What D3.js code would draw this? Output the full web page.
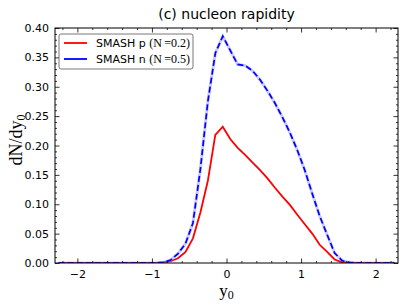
<!DOCTYPE html>
<html><head><meta charset="utf-8">
<script src="https://cdn.jsdelivr.net/npm/d3@7"></script>
<style>body{margin:0;background:#fff}svg{display:block}</style>
</head><body>
<script>
const titleText = "(c) nucleon rapidity";
const y0Bins = [-2.25,-2.15,-2.05,-1.95,-1.85,-1.75,-1.65,-1.55,-1.45,-1.35,-1.25,-1.15,-1.05,-0.95,
  -0.85,-0.75,-0.65,-0.55,-0.45,-0.35,-0.25,-0.15,-0.05,0.05,0.15,0.25,0.35,0.45,0.55,0.65,0.75,0.85,0.95,
  1.05,1.15,1.25,1.35,1.45,1.55,1.65,1.75,1.85,1.95,2.05,2.15,2.25];
const protonVals = [0,0,0,0,0,0,0,0,0,0,0,0,0,0,
  0.001,0.003,0.008,0.019,0.042,0.086,0.140,0.218,0.232,0.211,0.196,0.184,0.171,0.158,0.144,0.128,0.113,0.099,0.082,
  0.066,0.050,0.031,0.019,0.006,0.001,0,0,0,0,0,0,0];
const neutronVals = [0,0,0,0,0,0,0,0,0,0,0,0,0,0,
  0.001,0.005,0.016,0.033,0.068,0.160,0.275,0.357,0.386,0.362,0.338,0.336,0.327,0.312,0.293,0.272,0.248,0.222,0.192,
  0.158,0.118,0.080,0.048,0.017,0.004,0.001,0,0,0,0,0,0];
const xMajor = [-2,-1,0,1,2];
const yMajor = [0,0.05,0.10,0.15,0.20,0.25,0.30,0.35,0.40];
const seriesNames = ["SMASH p", "SMASH n"];
const seriesNorm = ["(N\u2009=0.2)", "(N\u2009=0.5)"];

const W = 407, H = 305;
const m = {l:55, r:9, t:28, b:42};
const svg = d3.select("body").append("svg").attr("width",W).attr("height",H);
const x = d3.scaleLinear().domain([-2.3,2.3]).range([m.l, W-m.r]);
const y = d3.scaleLinear().domain([0,0.40]).range([H-m.b, m.t]);
const pw = W-m.l-m.r, ph = H-m.t-m.b;

const xMinor = d3.range(-22,23,2).map(d=>d/10).filter(d=>Math.abs(d-Math.round(d))>1e-6);
const yMinor = d3.range(0,41,1).map(d=>d/100).filter(d=>Math.abs(d*20-Math.round(d*20))>1e-6);

const sans = "DejaVu Sans, sans-serif";
const serif = "Liberation Serif, Times New Roman, serif";

// data lines
const line = vals => d3.line().x((d,i)=>x(d)).y((d,i)=>y(vals[i]))(y0Bins);
svg.append("clipPath").attr("id","c").append("rect").attr("x",m.l).attr("y",m.t-2).attr("width",pw).attr("height",ph+2);
const lg = svg.append("g").attr("clip-path","url(#c)");
lg.append("path").attr("d",line(protonVals)).attr("fill","none").attr("stroke","#ff0000").attr("stroke-width",1.8);
lg.append("path").attr("d",line(neutronVals)).attr("fill","none").attr("stroke","#8a8aff").attr("stroke-width",3).attr("opacity",0.45);
lg.append("path").attr("d",line(neutronVals)).attr("fill","none").attr("stroke","#0000ff").attr("stroke-width",1.7).attr("stroke-dasharray","6,3");

// axes frame
const ax = svg.append("g");
ax.append("g").attr("transform",`translate(0,${H-m.b})`).call(d3.axisBottom(x).tickValues(xMajor).tickSize(-4.5).tickPadding(7).tickFormat(d=>d<0?"\u2212"+Math.abs(d):d));
ax.append("g").attr("transform",`translate(0,${H-m.b})`).call(d3.axisBottom(x).tickValues(xMinor).tickSize(-2).tickFormat(""));
ax.append("g").attr("transform",`translate(0,${m.t})`).call(d3.axisTop(x).tickValues(xMajor).tickSize(-4.5).tickFormat(""));
ax.append("g").attr("transform",`translate(0,${m.t})`).call(d3.axisTop(x).tickValues(xMinor).tickSize(-2).tickFormat(""));
ax.append("g").attr("transform",`translate(${m.l},0)`).call(d3.axisLeft(y).tickValues(yMajor).tickSize(-4.5).tickPadding(6).tickFormat(d3.format(".2f")));
ax.append("g").attr("transform",`translate(${m.l},0)`).call(d3.axisLeft(y).tickValues(yMinor).tickSize(-2).tickFormat(""));
ax.append("g").attr("transform",`translate(${W-m.r},0)`).call(d3.axisRight(y).tickValues(yMajor).tickSize(-4.5).tickFormat(""));
ax.append("g").attr("transform",`translate(${W-m.r},0)`).call(d3.axisRight(y).tickValues(yMinor).tickSize(-2).tickFormat(""));
ax.selectAll(".domain").remove();
ax.selectAll("line").attr("stroke","#000").attr("stroke-width",0.8);
ax.selectAll("text").attr("font-family",sans).attr("font-size",11).attr("fill","#000");
svg.append("rect").attr("x",m.l).attr("y",m.t).attr("width",pw).attr("height",ph).attr("fill","none").attr("stroke","#000").attr("stroke-width",1);

// title
svg.append("text").attr("x",x(0)).attr("y",19).attr("text-anchor","middle").attr("font-family",sans).attr("font-size",14).text(titleText);

// axis labels
const xl = svg.append("text").attr("x",x(0)).attr("y",296).attr("text-anchor","middle").attr("font-family",serif).attr("font-size",17);
xl.append("tspan").text("y");
xl.append("tspan").attr("font-size",12).attr("dy",3).text("0");
const yl = svg.append("text").attr("transform",`translate(22,140) rotate(-90)`).attr("text-anchor","middle").attr("font-family",serif).attr("font-size",18);
yl.append("tspan").text("dN/dy");
yl.append("tspan").attr("font-size",12).attr("dy",3).text("0");

// legend
const leg = svg.append("g");
leg.append("rect").attr("x",59).attr("y",34).attr("width",134).attr("height",35).attr("rx",2).attr("fill","#fff").attr("stroke","#555").attr("stroke-width",0.8);
const cols = ["#ff0000","#0000ff"];
seriesNames.forEach((n,i)=>{
  const yy = 43 + i*16;
  leg.append("line").attr("x1",64).attr("x2",87).attr("y1",yy).attr("y2",yy).attr("stroke",cols[i]).attr("stroke-width",1.8);
  const t = leg.append("text").attr("x",96).attr("y",yy+4).attr("font-size",11);
  t.append("tspan").attr("font-family",sans).text(n+" ");
  t.append("tspan").attr("font-family",serif).attr("font-size",12).text(seriesNorm[i]);
});
</script>
</body></html>
